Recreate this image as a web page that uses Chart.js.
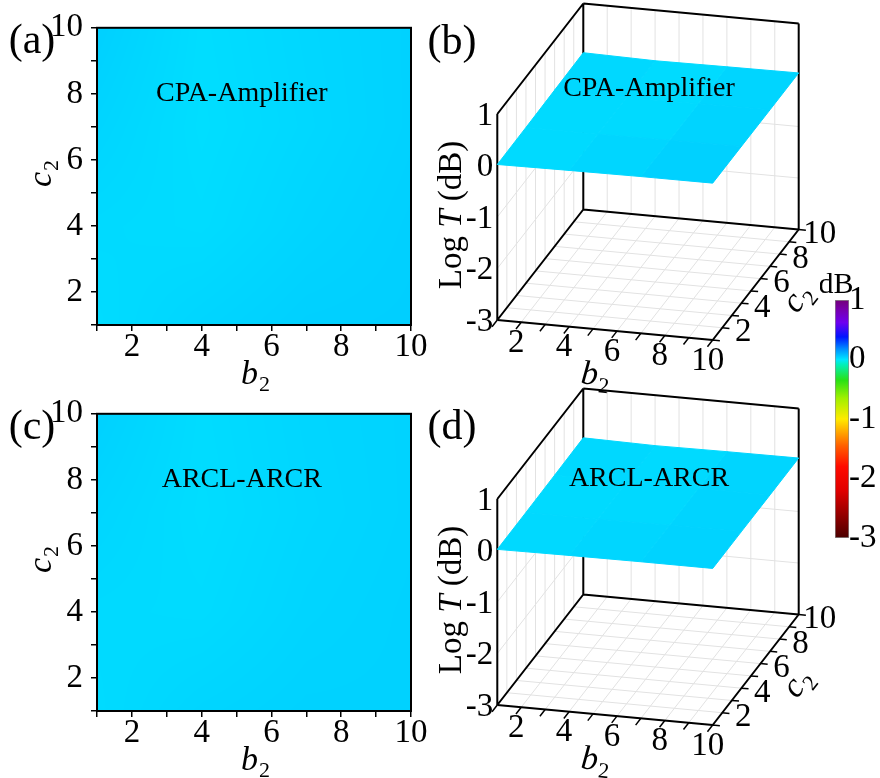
<!DOCTYPE html>
<html>
<head>
<meta charset="utf-8">
<script src="https://cdn.jsdelivr.net/npm/chart.js@4.4.0/dist/chart.umd.min.js"></script>
<style>
  html, body { margin: 0; padding: 0; background: #fff; }
  #wrap { position: relative; width: 880px; height: 778px; overflow: hidden; }
  canvas { position: absolute; }
</style>
</head>
<body>
<div id="wrap">
  <canvas id="mapA" width="440" height="400" style="left:0;top:0"></canvas>
  <canvas id="mapC" width="440" height="400" style="left:0;top:386px"></canvas>
  <canvas id="surfB" width="420" height="400" style="left:420px;top:0"></canvas>
  <canvas id="surfD" width="420" height="400" style="left:420px;top:385px"></canvas>
  <canvas id="cbar" width="60" height="290" style="left:820px;top:270px"></canvas>
</div>
<script>
// ── Data ─────────────────────────────────────────────────────
const b2Range   = [1, 10];
const c2Range   = [1, 10];
const logTRange = [-3, 1];
const b2Ticks   = [2, 4, 6, 8, 10];
const c2Ticks   = [2, 4, 6, 8, 10];
const logTTicks = [1, 0, -1, -2, -3];
const cbarTicks = [1, 0, -1, -2, -3];

// sample grid of the maps (log T in dB), rows = c2, columns = b2
const gridB2 = [1, 4, 7, 10];
const gridC2 = [1, 4, 7, 10];
const logTCPA = [
  [0.020, 0.034, 0.044, 0.046],   // c2 = 1
  [0.024, 0.020, 0.034, 0.044],   // c2 = 4
  [0.034, 0.016, 0.028, 0.040],   // c2 = 7
  [0.044, 0.018, 0.030, 0.040],   // c2 = 10
];
const logTARCL = [
  [0.022, 0.034, 0.040, 0.040],
  [0.024, 0.022, 0.034, 0.040],
  [0.032, 0.018, 0.030, 0.038],
  [0.042, 0.020, 0.032, 0.038],
];

// colour map (dB -> rgb)
const cmapValues = [-3, -2.6, -2.2, -1.8, -1.45, -1, -0.65, -0.35, -0.08, 0, 0.18, 0.38, 0.62, 0.85, 1];
const cmapColors = [
  [75, 0, 0], [150, 0, 0], [225, 0, 0], [255, 10, 0], [255, 95, 0], [255, 235, 0],
  [160, 240, 0], [40, 225, 20], [0, 240, 190], [0, 230, 255], [0, 140, 255],
  [0, 20, 255], [110, 0, 240], [120, 0, 170], [115, 0, 120],
];

const FONT = '"Liberation Serif", "Times New Roman", serif';
const BLACK = '#000';
const GRID_GREY = '#e2e2e2';
const TICK_SIZE = 33;

// ── Helpers ──────────────────────────────────────────────────
function cmap(v) {
  if (v <= cmapValues[0]) return cmapColors[0];
  for (let k = 0; k < cmapValues.length - 1; k++) {
    if (v <= cmapValues[k + 1]) {
      const t = (v - cmapValues[k]) / (cmapValues[k + 1] - cmapValues[k]);
      const a = cmapColors[k], b = cmapColors[k + 1];
      return [0, 1, 2].map(n => Math.round(a[n] + (b[n] - a[n]) * t));
    }
  }
  return cmapColors[cmapColors.length - 1];
}
const rgb = c => `rgb(${c[0]},${c[1]},${c[2]})`;

function segIndex(arr, v) {
  for (let k = 0; k < arr.length - 2; k++) if (v < arr[k + 1]) return k;
  return arr.length - 2;
}
function sample(grid, b, c) {
  const i = segIndex(gridB2, b), j = segIndex(gridC2, c);
  const tx = (b - gridB2[i]) / (gridB2[i + 1] - gridB2[i]);
  const ty = (c - gridC2[j]) / (gridC2[j + 1] - gridC2[j]);
  const v0 = grid[j][i] + (grid[j][i + 1] - grid[j][i]) * tx;
  const v1 = grid[j + 1][i] + (grid[j + 1][i + 1] - grid[j + 1][i]) * tx;
  return v0 + (v1 - v0) * ty;
}

// text with italic symbol + subscript, centred at (x, y)
function subText(ctx, x, y, base, sub, size, rot) {
  ctx.save();
  ctx.translate(x, y);
  ctx.rotate(rot || 0);
  ctx.fillStyle = BLACK;
  ctx.textAlign = 'left';
  ctx.textBaseline = 'alphabetic';
  const fBase = `italic ${size}px ${FONT}`;
  const fSub = `${Math.round(size * 0.64)}px ${FONT}`;
  ctx.font = fBase; const w1 = ctx.measureText(base).width;
  ctx.font = fSub;  const w2 = ctx.measureText(sub).width;
  const x0 = -(w1 + w2) / 2, yb = size * 0.25;
  ctx.font = fBase; ctx.fillText(base, x0, yb);
  ctx.font = fSub;  ctx.fillText(sub, x0 + w1 + 1, yb + size * 0.22);
  ctx.restore();
}

function plainText(ctx, x, y, txt, size, align) {
  ctx.save();
  ctx.fillStyle = BLACK;
  ctx.font = `${size}px ${FONT}`;
  ctx.textAlign = align || 'center';
  ctx.textBaseline = 'middle';
  ctx.fillText(txt, x, y);
  ctx.restore();
}

// ── 2D maps (a), (c) ─────────────────────────────────────────
function mapPlugin(grid, name, tag) {
  return {
    id: 'map' + tag,
    beforeDatasetsDraw(chart) {
      const { ctx, chartArea: a, scales: { x, y } } = chart;
      const L = Math.round(a.left), T = Math.round(a.top);
      const W = Math.round(a.right) - L, H = Math.round(a.bottom) - T;
      const img = ctx.createImageData(W, H);
      for (let j = 0; j < H; j++) {
        const c2 = y.getValueForPixel(T + j + 0.5);
        for (let i = 0; i < W; i++) {
          const b2 = x.getValueForPixel(L + i + 0.5);
          const col = cmap(sample(grid, b2, c2));
          const k = (j * W + i) * 4;
          img.data[k] = col[0]; img.data[k + 1] = col[1]; img.data[k + 2] = col[2]; img.data[k + 3] = 255;
        }
      }
      ctx.putImageData(img, L, T);
    },
    afterDraw(chart) {
      const { ctx, chartArea: a, scales: { x, y } } = chart;
      ctx.save();
      ctx.strokeStyle = BLACK;
      ctx.lineWidth = 2;
      ctx.strokeRect(a.left, a.top, a.right - a.left, a.bottom - a.top);
      ctx.restore();
      plainText(ctx, x.getPixelForValue(5.15), y.getPixelForValue(8), name, 28);
      plainText(ctx, 32, 42, tag, 42);
      subText(ctx, 255, 375, 'b', '2', 34, 0);
      subText(ctx, 42, 174, 'c', '2', 34, -Math.PI / 2);
    }
  };
}

function mapChart(id, grid, name, tag) {
  const tickFont = { family: FONT, size: TICK_SIZE };
  const axisGrid = { display: true, drawOnChartArea: false, drawTicks: true, tickLength: 6, color: BLACK, lineWidth: 1.5 };
  return new Chart(document.getElementById(id), {
    type: 'scatter',
    data: { datasets: [{ data: [] }] },
    options: {
      responsive: false,
      animation: false,
      events: [],
      layout: { padding: { left: 0, top: 23, right: 29, bottom: 0 } },
      plugins: { legend: { display: false }, tooltip: { enabled: false } },
      scales: {
        x: {
          type: 'linear', min: b2Range[0], max: b2Range[1],
          ticks: { stepSize: 1, color: BLACK, font: tickFont, padding: -3, maxRotation: 0, autoSkip: false,
                   callback: v => b2Ticks.includes(v) ? String(v) : '' },
          grid: axisGrid,
          border: { display: false },
          afterFit: s => { s.height = 75; }
        },
        y: {
          type: 'linear', min: c2Range[0], max: c2Range[1],
          ticks: { stepSize: 1, color: BLACK, font: tickFont, padding: 8, autoSkip: false,
                   callback: v => c2Ticks.includes(v) ? String(v) : '' },
          grid: axisGrid,
          border: { display: false },
          afterFit: s => { s.width = 97; }
        }
      }
    },
    plugins: [mapPlugin(grid, name, tag)]
  });
}

// ── 3D surfaces (b), (d) ─────────────────────────────────────
// oblique projection of (b2, c2, logT) into the canvas
const VIEW = { ox: 77.3, oy: 320, eb: [215.4 / 9, 20 / 9], ec: [86 / 9, -110.5 / 9], ez: 51.5 };
function proj(b, c, z) {
  return {
    x: VIEW.ox + (b - b2Range[0]) * VIEW.eb[0] + (c - c2Range[0]) * VIEW.ec[0],
    y: VIEW.oy + (b - b2Range[0]) * VIEW.eb[1] + (c - c2Range[0]) * VIEW.ec[1] - (z - logTRange[0]) * VIEW.ez
  };
}
function segs(list) {
  const out = [];
  list.forEach(([p, q]) => { out.push(proj(...p), proj(...q), { x: null, y: null }); });
  return out;
}
const range = (a, b) => Array.from({ length: b - a + 1 }, (_, i) => a + i);

function surfaceChart(id, grid, name, tag, nameY) {
  const [b0, b1] = b2Range, [c0, c1] = c2Range, [z0, z1] = logTRange;

  const gridLines = [];
  range(b0, b1).forEach(b => {
    gridLines.push([[b, c0, z0], [b, c1, z0]]);
    gridLines.push([[b, c1, z0], [b, c1, z1]]);
  });
  range(c0, c1).forEach(c => {
    gridLines.push([[b0, c, z0], [b1, c, z0]]);
    gridLines.push([[b0, c, z0], [b0, c, z1]]);
  });
  range(z0, z1).forEach(z => {
    gridLines.push([[b0, c1, z], [b1, c1, z]]);
    gridLines.push([[b0, c0, z], [b0, c1, z]]);
  });

  const boxEdges = [
    [[b0, c0, z0], [b0, c0, z1]], [[b0, c0, z1], [b0, c1, z1]], [[b0, c1, z1], [b1, c1, z1]],
    [[b1, c1, z1], [b1, c1, z0]], [[b0, c1, z1], [b0, c1, z0]], [[b0, c0, z0], [b1, c0, z0]],
    [[b1, c0, z0], [b1, c1, z0]], [[b0, c0, z0], [b0, c1, z0]], [[b0, c1, z0], [b1, c1, z0]],
  ];

  const tickLines = [];
  range(b0, b1).forEach(b => tickLines.push([[b, c0, z0], [b, c0 - 0.55, z0]]));
  range(c0, c1).forEach(c => tickLines.push([[b1, c, z0], [b1 + 0.3, c, z0]]));

  const datasets = [];
  for (let j = 0; j < gridC2.length - 1; j++) {
    for (let i = 0; i < gridB2.length - 1; i++) {
      const idx = [[i, j], [i + 1, j], [i + 1, j + 1], [i, j + 1], [i, j]];
      const pts = idx.map(([p, q]) => proj(gridB2[p], gridC2[q], grid[q][p]));
      const v = (grid[j][i] + grid[j][i + 1] + grid[j + 1][i] + grid[j + 1][i + 1]) / 4;
      const col = rgb(cmap(v));
      datasets.push({ data: pts, fill: 'shape', backgroundColor: col, borderColor: col, borderWidth: 1, order: 0 });
    }
  }
  datasets.push({ data: segs(tickLines), borderColor: BLACK, borderWidth: 1.5, order: 1 });
  datasets.push({ data: segs(boxEdges), borderColor: BLACK, borderWidth: 2, order: 5 });
  datasets.push({ data: segs(gridLines), borderColor: GRID_GREY, borderWidth: 1, order: 10 });
  datasets.forEach(d => Object.assign(d, { showLine: true, pointRadius: 0, spanGaps: false, tension: 0 }));

  const labels = {
    id: 'labels' + tag,
    afterDraw(chart) {
      const ctx = chart.ctx;
      logTTicks.forEach(z => { const p = proj(b0, c0, z); plainText(ctx, p.x - 4, p.y + 2, String(z), TICK_SIZE, 'right'); });
      b2Ticks.forEach(b => { const p = proj(b, c0, z0); plainText(ctx, p.x - 5, p.y + 21, String(b), TICK_SIZE); });
      c2Ticks.forEach(c => { const p = proj(b1, c, z0); plainText(ctx, p.x + 21, p.y + 5, String(c), TICK_SIZE); });
      plainText(ctx, 229, nameY, name, 28);
      plainText(ctx, 32, 43, tag, 42);
      subText(ctx, 175, 376, 'b', '2', 34, Math.atan2(VIEW.eb[1], VIEW.eb[0]));
      subText(ctx, 378, 299, 'c', '2', 34, Math.atan2(VIEW.ec[1], VIEW.ec[0]));
      // vertical axis title: Log T (dB)
      ctx.save();
      ctx.translate(32, 215);
      ctx.rotate(-Math.PI / 2);
      ctx.fillStyle = BLACK;
      ctx.textBaseline = 'middle';
      const parts = [['Log ', ''], ['T', 'italic '], [' (dB)', '']];
      const widths = parts.map(([t, s]) => { ctx.font = `${s}33px ${FONT}`; return ctx.measureText(t).width; });
      let xx = -widths.reduce((a, b) => a + b, 0) / 2;
      parts.forEach(([t, s], k) => { ctx.font = `${s}33px ${FONT}`; ctx.textAlign = 'left'; ctx.fillText(t, xx, 0); xx += widths[k]; });
      ctx.restore();
    }
  };

  return new Chart(document.getElementById(id), {
    type: 'scatter',
    data: { datasets },
    options: {
      responsive: false,
      animation: false,
      events: [],
      layout: { padding: 0 },
      plugins: { legend: { display: false }, tooltip: { enabled: false } },
      scales: {
        x: { type: 'linear', min: 0, max: 420, display: false },
        y: { type: 'linear', min: 0, max: 400, reverse: true, display: false }
      }
    },
    plugins: [labels]
  });
}

// ── Colour bar ───────────────────────────────────────────────
function colorBar(id) {
  return new Chart(document.getElementById(id), {
    type: 'bar',
    data: {
      labels: ['dB'],
      datasets: [{
        data: [[logTRange[0], logTRange[1]]],
        backgroundColor: c => {
          const ch = c.chart;
          if (!ch.chartArea) return null;
          const ys = ch.scales.y;
          const g = ch.ctx.createLinearGradient(0, ys.getPixelForValue(logTRange[0]), 0, ys.getPixelForValue(logTRange[1]));
          cmapValues.forEach((v, k) => g.addColorStop((v - logTRange[0]) / (logTRange[1] - logTRange[0]), rgb(cmapColors[k])));
          return g;
        },
        borderColor: '#8c8c8c',
        borderWidth: 1,
        borderSkipped: false,
        barPercentage: 1,
        categoryPercentage: 1
      }]
    },
    options: {
      responsive: false,
      animation: false,
      events: [],
      layout: { padding: { left: 15, top: 30, right: 0, bottom: 22 } },
      plugins: { legend: { display: false }, tooltip: { enabled: false } },
      scales: {
        x: { display: false },
        y: {
          position: 'right', min: logTRange[0], max: logTRange[1],
          ticks: { stepSize: 1, color: BLACK, font: { family: FONT, size: TICK_SIZE }, padding: 0,
                   callback: v => cbarTicks.includes(v) ? String(v) : '' },
          grid: { display: false, drawTicks: false },
          border: { display: false },
          afterFit: s => { s.width = 31; }
        }
      }
    },
    plugins: [{
      id: 'cbarTitle',
      afterDraw(chart) { plainText(chart.ctx, 16, 15, 'dB', 30); }
    }]
  });
}

// ── Start ────────────────────────────────────────────────────
mapChart('mapA', logTCPA, 'CPA-Amplifier', '(a)');
mapChart('mapC', logTARCL, 'ARCL-ARCR', '(c)');
surfaceChart('surfB', logTCPA, 'CPA-Amplifier', '(b)', 89);
surfaceChart('surfD', logTARCL, 'ARCL-ARCR', '(d)', 94);
colorBar('cbar');
</script>
</body>
</html>
